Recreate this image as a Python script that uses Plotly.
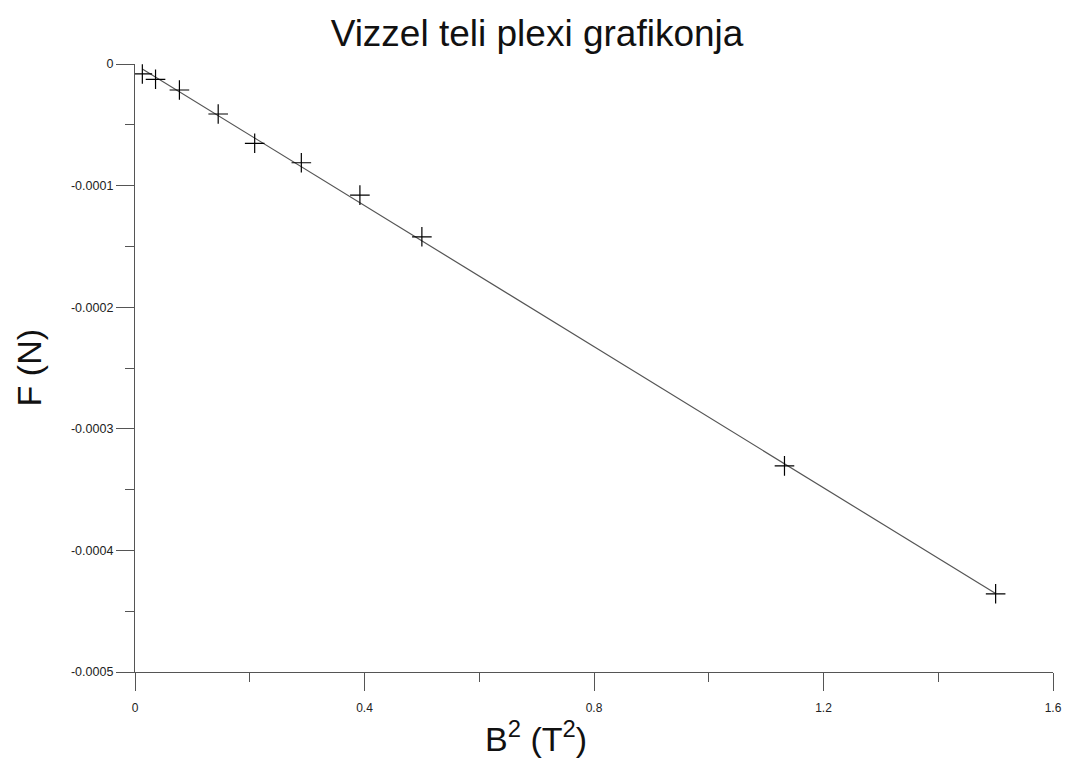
import plotly.graph_objects as go

# Data
b2_values = [0.0128, 0.0358, 0.0774, 0.145, 0.2086, 0.2899, 0.392, 0.500, 1.132, 1.500]
force_values = [-8.2e-6, -1.26e-5, -2.14e-5, -4.11e-5, -6.52e-5, -8.12e-5, -1.078e-4, -1.421e-4, -3.305e-4, -4.357e-4]

# Fitted line endpoints (as drawn)
fit_x = [0.0128, 1.500]
fit_y = [-4.1e-6, -4.355e-4]

x_tickvals = [0, 0.4, 0.8, 1.2, 1.6]
x_ticktext = ["0", "0.4", "0.8", "1.2", "1.6"]
y_tickvals = [0, -0.0001, -0.0002, -0.0003, -0.0004, -0.0005]
y_ticktext = ["0", "-0.0001", "-0.0002", "-0.0003", "-0.0004", "-0.0005"]

FONT = "Liberation Sans, Arial, sans-serif"
AXCOL = "#555555"

fig = go.Figure()
fig.add_trace(go.Scatter(
    x=fit_x, y=fit_y, mode="lines",
    line=dict(color="#555555", width=1.2),
    hoverinfo="skip", showlegend=False,
))
fig.add_trace(go.Scatter(
    x=b2_values, y=force_values, mode="markers",
    marker=dict(symbol="cross-thin", size=14, line=dict(color="black", width=1.2), color="black"),
    showlegend=False,
))

fig.update_layout(
    width=1074, height=760,
    margin=dict(l=135, r=15, t=64, b=88),
    paper_bgcolor="white", plot_bgcolor="white",
    font=dict(family=FONT, color="#222222"),
    title=dict(text="Vizzel teli plexi grafikonja", xref="container", x=0.5, xanchor="center",
               yref="container", y=1 - 33 / 760, yanchor="middle",
               font=dict(family=FONT, size=37, color="#111111")),
    xaxis=dict(
        range=[0, 1.6], showgrid=False, zeroline=False,
        showline=True, linecolor=AXCOL, linewidth=1.3,
        ticks="outside", ticklen=18, tickwidth=1.3, tickcolor=AXCOL,
        tickvals=x_tickvals, ticktext=x_ticktext, ticklabelstandoff=6,
        tickfont=dict(family=FONT, size=12, color="#222222"),
        minor=dict(dtick=0.2, tick0=0, ticks="outside", ticklen=9, tickwidth=1.3, tickcolor=AXCOL, showgrid=False),
    ),
    yaxis=dict(
        range=[-0.0005, 0], showgrid=False, zeroline=False,
        showline=True, linecolor=AXCOL, linewidth=1.3,
        ticks="outside", ticklen=18, tickwidth=1.3, tickcolor=AXCOL,
        tickvals=y_tickvals, ticktext=y_ticktext,
        tickfont=dict(family=FONT, size=12.5, color="#222222"),
        minor=dict(dtick=0.00005, tick0=0, ticks="outside", ticklen=9, tickwidth=1.3, tickcolor=AXCOL, showgrid=False),
    ),
    annotations=[
        dict(text="B<sup>2</sup> (T<sup>2</sup>)", xref="paper", yref="paper",
             x=(539 - 135.3) / 924, y=0, xanchor="center", yanchor="middle", yshift=-64,
             showarrow=False, font=dict(family=FONT, size=34, color="#111111")),
        dict(text="F (N)", xref="paper", yref="paper", textangle=-90,
             x=(29 - 135.3) / 924, y=0.5, xanchor="center", yanchor="middle",
             showarrow=False, font=dict(family=FONT, size=34, color="#111111")),
    ],
)

fig.write_html("out.html")
